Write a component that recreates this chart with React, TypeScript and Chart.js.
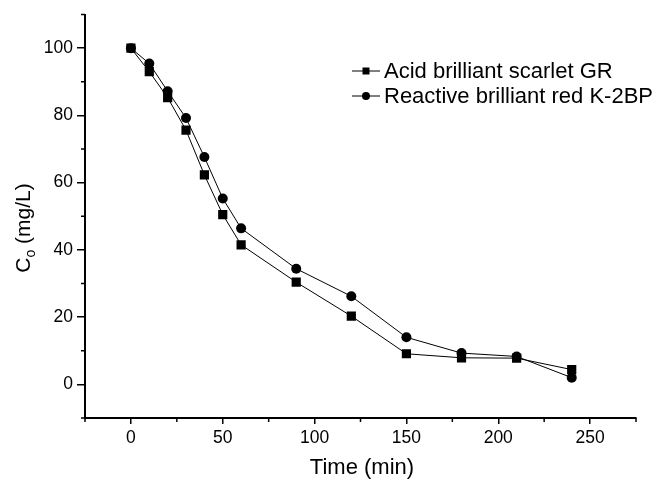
import React, { useEffect, useRef } from "react";
import { Chart, registerables } from "chart.js";

Chart.register(...registerables);

const TIMES = [0, 10, 20, 30, 40, 50, 60, 90, 120, 150, 180, 210, 240];
const ACID_GR = [100, 93.0, 85.3, 75.6, 62.3, 50.5, 41.5, 30.4, 20.3, 9.1, 7.9, 7.8, 4.4];
const REACTIVE_K2BP = [100, 95.4, 87.2, 79.2, 67.6, 55.3, 46.4, 34.4, 26.2, 14.0, 9.3, 8.3, 2.0];
const SERIES_NAMES = ["Acid brilliant scarlet GR", "Reactive brilliant red K-2BP"];
const X_TICKS = [0, 50, 100, 150, 200, 250];
const X_MINOR = [-25, 25, 75, 125, 175, 225, 275];
const Y_TICKS = [0, 20, 40, 60, 80, 100];
const Y_MINOR = [-10, 10, 30, 50, 70, 90, 110];
const X_TITLE = "Time (min)";
const Y_TITLE_MAIN = "C";
const Y_TITLE_SUB = "o";
const Y_TITLE_REST = " (mg/L)";

const FONT = "'Liberation Sans', Arial, sans-serif";

const decorPlugin = {
  id: "decor",
  afterDraw(chart: any) {
    const ctx = chart.ctx;
    const xs = chart.scales.x;
    const ys = chart.scales.y;
    const ca = chart.chartArea;
    ctx.save();
    ctx.strokeStyle = "#000";
    ctx.lineWidth = 1.5;
    // minor ticks
    X_MINOR.forEach((v) => {
      const px = xs.getPixelForValue(v);
      ctx.beginPath();
      ctx.moveTo(px, ca.bottom);
      ctx.lineTo(px, ca.bottom + 4);
      ctx.stroke();
    });
    Y_MINOR.forEach((v) => {
      const py = ys.getPixelForValue(v);
      ctx.beginPath();
      ctx.moveTo(ca.left, py);
      ctx.lineTo(ca.left - 4, py);
      ctx.stroke();
    });

    ctx.fillStyle = "#000";
    // x title
    ctx.font = `22px ${FONT}`;
    ctx.textAlign = "center";
    ctx.textBaseline = "alphabetic";
    ctx.fillText(X_TITLE, 362, 474);

    // y title (rotated, with subscript)
    ctx.save();
    ctx.translate(30, 228);
    ctx.rotate(-Math.PI / 2);
    ctx.textAlign = "left";
    ctx.font = `21px ${FONT}`;
    const wC = ctx.measureText(Y_TITLE_MAIN).width;
    const wR = ctx.measureText(Y_TITLE_REST).width;
    ctx.font = `14px ${FONT}`;
    const wS = ctx.measureText(Y_TITLE_SUB).width;
    const total = wC + wS + wR;
    let x0 = -total / 2;
    ctx.font = `21px ${FONT}`;
    ctx.fillText(Y_TITLE_MAIN, x0, 0);
    x0 += wC;
    ctx.font = `14px ${FONT}`;
    ctx.fillText(Y_TITLE_SUB, x0, 5);
    x0 += wS;
    ctx.font = `21px ${FONT}`;
    ctx.fillText(Y_TITLE_REST, x0, 0);
    ctx.restore();

    // legend
    const rows = [71, 96];
    ctx.font = `22px ${FONT}`;
    ctx.textAlign = "left";
    ctx.textBaseline = "middle";
    rows.forEach((ry, i) => {
      ctx.lineWidth = 1;
      ctx.beginPath();
      ctx.moveTo(352, ry);
      ctx.lineTo(380, ry);
      ctx.stroke();
      ctx.beginPath();
      if (i === 0) {
        ctx.rect(362.5, ry - 3.5, 7, 7);
      } else {
        ctx.arc(366, ry, 4, 0, Math.PI * 2);
      }
      ctx.fill();
      ctx.fillText(SERIES_NAMES[i], 384, ry + 1);
    });
    ctx.restore();
  },
};

export default function App() {
  const ref = useRef<HTMLCanvasElement>(null);
  useEffect(() => {
    if (!ref.current) return;
    const chart = new Chart(ref.current, {
      type: "line",
      data: {
        datasets: [
          {
            label: SERIES_NAMES[0],
            data: TIMES.map((t, i) => ({ x: t, y: ACID_GR[i] })),
            borderColor: "#000",
            backgroundColor: "#000",
            borderWidth: 1,
            pointStyle: "rect",
            pointRadius: 6.5,
            pointBorderWidth: 0,
            tension: 0,
          },
          {
            label: SERIES_NAMES[1],
            data: TIMES.map((t, i) => ({ x: t, y: REACTIVE_K2BP[i] })),
            borderColor: "#000",
            backgroundColor: "#000",
            borderWidth: 1,
            pointStyle: "circle",
            pointRadius: 5,
            pointBorderWidth: 0,
            tension: 0,
          },
        ],
      },
      options: {
        animation: false,
        responsive: false,
        events: [],
        layout: { padding: { top: 13, right: 20, left: 0, bottom: 0 } },
        plugins: { legend: { display: false }, tooltip: { enabled: false } },
        scales: {
          x: {
            type: "linear",
            min: -25,
            max: 275,
            afterBuildTicks: (s: any) => {
              s.ticks = X_TICKS.map((v) => ({ value: v }));
            },
            afterFit: (s: any) => {
              s.height = 61;
            },
            border: { display: true, color: "#000", width: 2 },
            grid: {
              display: true,
              drawOnChartArea: false,
              drawTicks: true,
              tickLength: 6,
              color: "#000",
              lineWidth: 1.5,
            },
            ticks: {
              color: "#000",
              font: { family: FONT, size: 17.5 },
              padding: 4,
              maxRotation: 0,
              autoSkip: false,
            },
          },
          y: {
            type: "linear",
            min: -10,
            max: 110,
            afterBuildTicks: (s: any) => {
              s.ticks = Y_TICKS.map((v) => ({ value: v }));
            },
            afterFit: (s: any) => {
              s.width = 85;
            },
            border: { display: true, color: "#000", width: 2 },
            grid: {
              display: true,
              drawOnChartArea: false,
              drawTicks: true,
              tickLength: 8,
              color: "#000",
              lineWidth: 1.5,
            },
            ticks: {
              color: "#000",
              font: { family: FONT, size: 17.5 },
              padding: 4,
              autoSkip: false,
            },
          },
        },
      },
      plugins: [decorPlugin],
    });
    return () => chart.destroy();
  }, []);
  return (
    <div style={{ position: "fixed", left: 0, top: 0, width: 656, height: 479, background: "#fff" }}>
      <canvas ref={ref} width={656} height={479} style={{ display: "block" }} />
    </div>
  );
}
